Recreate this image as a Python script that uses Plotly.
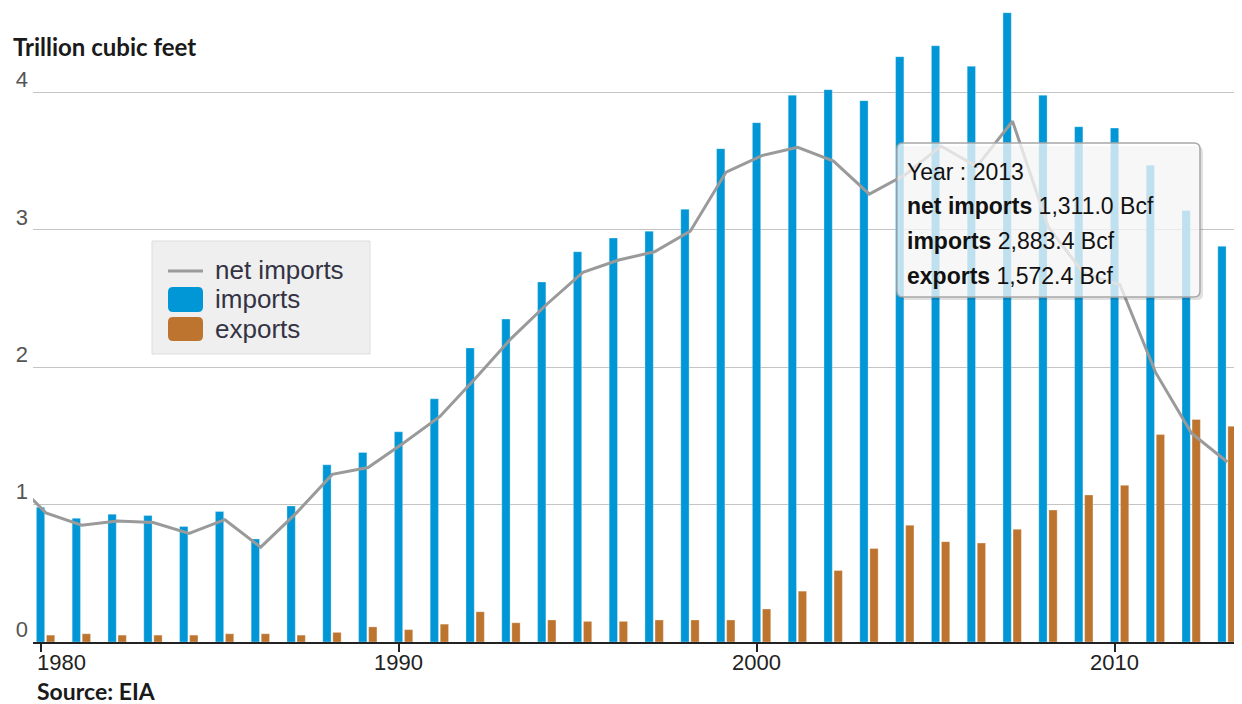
import plotly.graph_objects as go

# US natural gas trade, trillion cubic feet
years = list(range(1979, 2014))
imports = [1.25, 0.98, 0.90, 0.93, 0.92, 0.84, 0.95, 0.75, 0.99, 1.29,
           1.38, 1.53, 1.77, 2.14, 2.35, 2.62, 2.84, 2.94, 2.99, 3.15,
           3.59, 3.78, 3.98, 4.02, 3.94, 4.26, 4.34, 4.19, 4.58, 3.98,
           3.75, 3.74, 3.47, 3.14, 2.88]
exports = [0.06, 0.05, 0.06, 0.05, 0.05, 0.05, 0.06, 0.06, 0.05, 0.07,
           0.11, 0.09, 0.13, 0.22, 0.14, 0.16, 0.15, 0.15, 0.16, 0.16,
           0.16, 0.24, 0.37, 0.52, 0.68, 0.85, 0.73, 0.72, 0.82, 0.96,
           1.07, 1.14, 1.51, 1.62, 1.57]
net_imports = [1.20, 0.94, 0.85, 0.88, 0.87, 0.79, 0.89, 0.69, 0.94, 1.22,
               1.27, 1.45, 1.64, 1.92, 2.21, 2.46, 2.69, 2.78, 2.84, 2.99,
               3.42, 3.54, 3.60, 3.50, 3.26, 3.40, 3.61, 3.46, 3.79, 3.02,
               2.68, 2.60, 1.96, 1.52, 1.31]
tick_years = [1980, 1990, 2000, 2010]
y_ticks = [0, 1, 2, 3, 4]

BLUE = "#0197D6"
BROWN = "#BD742E"
GREY = "#9a9a9a"
SANS = "Liberation Sans, Arial, sans-serif"
BOLD = "Lato, Calibri, sans-serif"

# the page body has an 8px margin, so the figure is a bit smaller than the window
OFF = 8
W, H = 1242 - OFF, 704 - OFF
# plot area in page pixels
L, R, T, B = 33, 1242, 8, 642


def px(x):
    return (x - L) / (R - L)


def py(y):
    return (B - y) / (B - T)


def rounded(x0, y0, x1, y1, r):
    pts = [("M", x0 + r, y0), ("L", x1 - r, y0), ("Q", x1, y0), ("", x1, y0 + r),
           ("L", x1, y1 - r), ("Q", x1, y1), ("", x1 - r, y1), ("L", x0 + r, y1),
           ("Q", x0, y1), ("", x0, y1 - r), ("L", x0, y0 + r), ("Q", x0, y0),
           ("", x0 + r, y0)]
    return " ".join(f"{c} {px(x):.5f},{py(y):.5f}".strip() for c, x, y in pts) + " Z"


fig = go.Figure()
fig.add_trace(go.Bar(x=years, y=imports, name="imports", marker_color=BLUE,
                     marker_line=dict(color="rgba(255,255,255,0.6)", width=0.5),
                     width=0.232, offset=-0.116))
fig.add_trace(go.Bar(x=years, y=exports, name="exports", marker_color=BROWN,
                     marker_line=dict(color="rgba(255,255,255,0.6)", width=0.5),
                     width=0.232, offset=0.165))
fig.add_trace(go.Scatter(x=[y + 0.15 for y in years], y=net_imports, name="net imports",
                         mode="lines", line=dict(color=GREY, width=3)))

shapes = [
    # legend box
    dict(type="rect", xref="paper", yref="paper", x0=px(152), x1=px(370), y0=py(354), y1=py(241),
         fillcolor="#efefef", line=dict(color="#dddddd", width=1), layer="above"),
    dict(type="line", xref="paper", yref="paper", x0=px(168), x1=px(203), y0=py(271), y1=py(271),
         line=dict(color=GREY, width=3), layer="above"),
    dict(type="path", xref="paper", yref="paper", path=rounded(168, 287, 203, 312, 5),
         fillcolor=BLUE, line=dict(width=0), layer="above"),
    dict(type="path", xref="paper", yref="paper", path=rounded(168, 317, 203, 341, 5),
         fillcolor=BROWN, line=dict(width=0), layer="above"),
    # tooltip
    dict(type="path", xref="paper", yref="paper", path=rounded(900, 146, 1203, 300, 6),
         fillcolor="rgba(0,0,0,0.12)", line=dict(width=0), layer="above"),
    dict(type="path", xref="paper", yref="paper", path=rounded(897, 143, 1200, 297, 6),
         fillcolor="rgba(255,255,255,0.75)", line=dict(color="#a8a8a8", width=1.5), layer="above"),
]

annotations = [
    dict(text="<b>Trillion cubic feet</b>", x=px(11), y=py(47), font=dict(family=BOLD, size=24, color="#1a1a1a")),
    dict(text="<b>Source: EIA</b>", x=px(35), y=py(691), font=dict(family=BOLD, size=23, color="#1a1a1a")),
    dict(text="net imports", x=px(213), y=py(270), font=dict(family=SANS, size=26, color="#333344")),
    dict(text="imports", x=px(213), y=py(299), font=dict(family=SANS, size=26, color="#333344")),
    dict(text="exports", x=px(213), y=py(329), font=dict(family=SANS, size=26, color="#333344")),
    dict(text="Year : 2013", x=px(905), y=py(172), font=dict(family=SANS, size=23, color="#111111")),
    dict(text="<b>net imports</b> 1,311.0 Bcf", x=px(905), y=py(206), font=dict(family=SANS, size=23, color="#111111")),
    dict(text="<b>imports</b> 2,883.4 Bcf", x=px(905), y=py(241), font=dict(family=SANS, size=23, color="#111111")),
    dict(text="<b>exports</b> 1,572.4 Bcf", x=px(905), y=py(276), font=dict(family=SANS, size=23, color="#111111")),
]
for a in annotations:
    a.update(xref="paper", yref="paper", xanchor="left", yanchor="middle", showarrow=False)

# year labels under the axis; the first one is nudged right to stay inside the chart
for i, yr in enumerate(tick_years):
    annotations.append(dict(text=str(yr), x=yr, xref="x", y=py(662), yref="paper",
                            xanchor="left" if i == 0 else "center", xshift=-6 if i == 0 else 0,
                            yanchor="middle", showarrow=False,
                            font=dict(family=SANS, size=22, color="#222222")))

fig.update_layout(
    width=W, height=H,
    margin=dict(l=L - OFF, r=1242 - R, t=T - OFF, b=704 - B, autoexpand=False),
    plot_bgcolor="white", paper_bgcolor="white",
    barmode="overlay", showlegend=False,
    shapes=shapes, annotations=annotations,
)
fig.update_xaxes(range=[1979.79, 2013.56], tickvals=tick_years, showticklabels=False,
                 ticks="outside", ticklen=8, tickwidth=2, tickcolor="#222222", automargin=False,
                 showline=True, linecolor="#222222", linewidth=2, showgrid=False, zeroline=False)
fig.update_yaxes(range=[0, (B - T) / 137.4], tickvals=y_ticks, showgrid=True, gridcolor="#c4c4c4", gridwidth=1,
                 zeroline=False, showline=False, ticklabelshift=-13, ticklabelstandoff=4, automargin=False,
                 tickfont=dict(family=SANS, size=22, color="#555555"))

fig.write_html("out.html")
